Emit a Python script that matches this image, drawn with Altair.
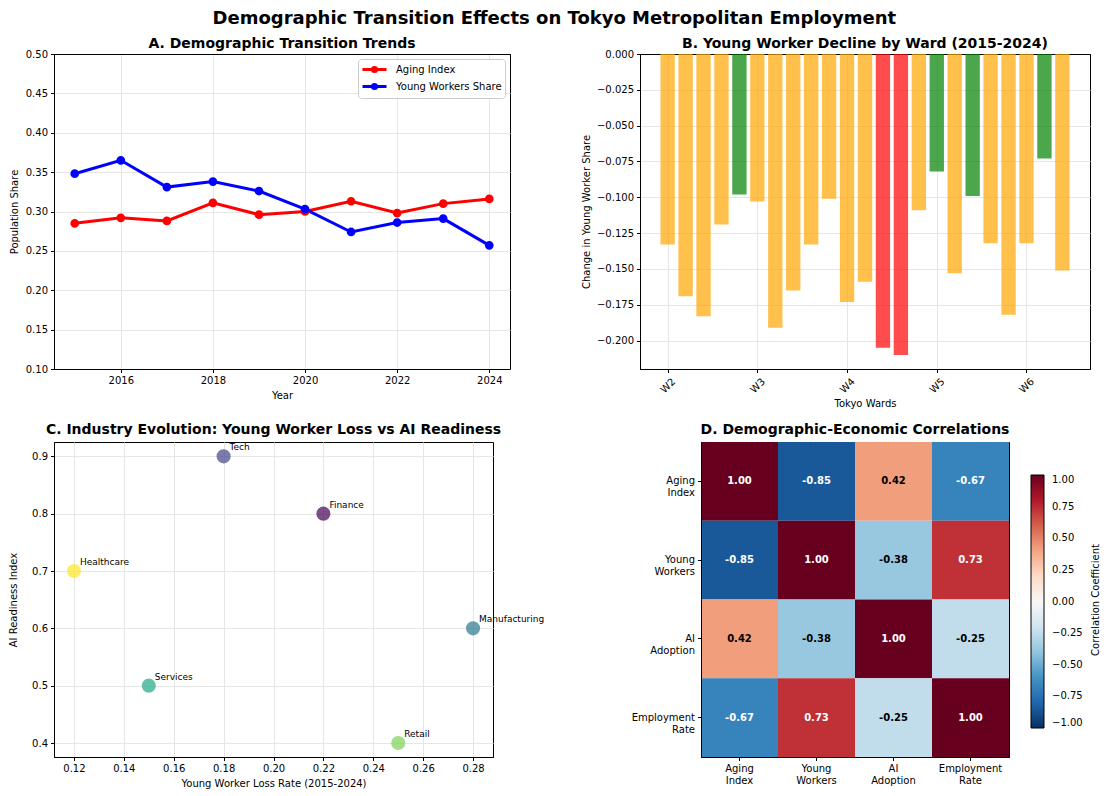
import altair as alt
import pandas as pd

FONT = "DejaVu Sans"

# ---------------- data ----------------
years = [2015, 2016, 2017, 2018, 2019, 2020, 2021, 2022, 2023, 2024]
aging_index = [0.285, 0.292, 0.288, 0.311, 0.296, 0.300, 0.313, 0.298, 0.310, 0.316]
young_share = [0.348, 0.365, 0.331, 0.338, 0.326, 0.303, 0.274, 0.286, 0.291, 0.257]
series_names = ["Aging Index", "Young Workers Share"]
series_colors = ["#ff0000", "#0000ff"]

ward_index = list(range(23))
ward_change = [-0.133, -0.169, -0.183, -0.119, -0.098, -0.103, -0.191, -0.165,
               -0.133, -0.101, -0.173, -0.159, -0.205, -0.210, -0.109, -0.082,
               -0.153, -0.099, -0.132, -0.182, -0.132, -0.073, -0.151]
ward_tick_positions = [0, 5, 10, 15, 20]
ward_tick_labels = ["W2", "W3", "W4", "W5", "W6"]
decline_classes = ["severe", "moderate", "mild"]
decline_colors = ["red", "orange", "green"]

industries = ["Finance", "Tech", "Manufacturing", "Services", "Retail", "Healthcare"]
young_loss = [0.22, 0.18, 0.28, 0.15, 0.25, 0.12]
ai_readiness = [0.80, 0.90, 0.60, 0.50, 0.40, 0.70]
industry_colors = ["#440154", "#414487", "#2a788e", "#22a884", "#7ad151", "#fde725"]

corr_labels = ["Aging Index", "Young Workers", "AI Adoption", "Employment Rate"]
corr_matrix = [
    [1.00, -0.85, 0.42, -0.67],
    [-0.85, 1.00, -0.38, 0.73],
    [0.42, -0.38, 1.00, -0.25],
    [-0.67, 0.73, -0.25, 1.00],
]
colorbar_ticks = [-1.0, -0.75, -0.5, -0.25, 0.0, 0.25, 0.5, 0.75, 1.0]
rdbu_r_stops = [-1.0, -0.8, -0.6, -0.4, -0.2, 0.0, 0.2, 0.4, 0.6, 0.8, 1.0]
rdbu_r_colors = ["#053061", "#2166ac", "#4393c3", "#92c5de", "#d1e5f0", "#f7f7f7",
                 "#fddbc7", "#f4a582", "#d6604d", "#b2182b", "#67001f"]

GRID = "#e6e6e6"

# ---------------- panel A ----------------
dfA = pd.DataFrame({
    "Year": years * 2,
    "Value": aging_index + young_share,
    "Series": [series_names[0]] * len(years) + [series_names[1]] * len(years),
})
legend_path = "M-2,0L2,0M0.35,0A0.35,0.35,0,1,1,-0.35,0A0.35,0.35,0,1,1,0.35,0Z"
legA = alt.Legend(title=None, orient="top-right", offset=5, symbolType=legend_path,
                  symbolSize=144, symbolStrokeWidth=3, symbolOffset=6,
                  labelFontSize=10, labelFont=FONT,
                  labelColor="black", labelOffset=14, rowPadding=0, padding=3,
                  strokeColor="#cccccc", fillColor="white", cornerRadius=3)
scA = alt.Scale(domain=series_names, range=series_colors)
xA = alt.X("Year:Q", scale=alt.Scale(domain=[2014.55, 2024.45], nice=False, zero=False),
           axis=alt.Axis(values=[2016, 2018, 2020, 2022, 2024], format="d", title="Year"))
yA = alt.Y("Value:Q", scale=alt.Scale(domain=[0.1, 0.5], nice=False, zero=False),
           axis=alt.Axis(values=[0.1, 0.15, 0.2, 0.25, 0.3, 0.35, 0.4, 0.45, 0.5],
                         format=".2f", title="Population Share", titlePadding=6,
                         gridColor={"condition": {"test": "datum.value >= 0.5", "value": "black"},
                                    "value": GRID}))
lineA = alt.Chart(dfA).mark_line(strokeWidth=3).encode(
    x=xA, y=yA, stroke=alt.Stroke("Series:N", scale=scA, legend=legA))
ptsA = alt.Chart(dfA).mark_point(filled=True, size=45, opacity=1).encode(
    x=xA, y=yA,
    fill=alt.Fill("Series:N", scale=scA, legend=legA),
    stroke=alt.Stroke("Series:N", scale=scA, legend=legA))
A = alt.layer(lineA, ptsA).properties(
    width=456, height=315,
    title=alt.Title("A. Demographic Transition Trends", offset=-2))

# ---------------- panel B ----------------
dfB = pd.DataFrame({"idx": ward_index, "change": ward_change})
B = alt.Chart(dfB).transform_calculate(
    x0="datum.idx - 0.4", x1="datum.idx + 0.4", zero="0",
    cls="datum.change < -0.2 ? 'severe' : (datum.change > -0.1 ? 'mild' : 'moderate')"
).mark_bar(opacity=0.7).encode(
    x=alt.X("x0:Q", scale=alt.Scale(domain=[-1.54, 23.54], nice=False, zero=False),
            axis=alt.Axis(values=ward_tick_positions,
                          labelExpr="['" + "','".join(ward_tick_labels) + "'][datum.value/5]",
                          labelAngle=-45, labelAlign="center", labelBaseline="middle",
                          labelPadding=13, title="Tokyo Wards", titlePadding=4)),
    x2="x1:Q",
    y=alt.Y("change:Q", scale=alt.Scale(domain=[-0.2198, 0.0], nice=False, zero=False),
            axis=alt.Axis(values=[0, -0.025, -0.05, -0.075, -0.1, -0.125, -0.15, -0.175, -0.2],
                          format=".3f", title="Change in Young Worker Share",
                          gridColor={"condition": {"test": "datum.value >= 0", "value": "black"},
                                     "value": GRID})),
    y2="zero:Q",
    color=alt.Color("cls:N", scale=alt.Scale(domain=decline_classes, range=decline_colors),
                    legend=None),
).properties(width=450, height=315,
             title=alt.Title("B. Young Worker Decline by Ward (2015-2024)", offset=-2))

# ---------------- panel C ----------------
dfC = pd.DataFrame({"Industry": industries, "loss": young_loss, "ai": ai_readiness})
xC = alt.X("loss:Q", scale=alt.Scale(domain=[0.112, 0.288], nice=False, zero=False),
           axis=alt.Axis(values=[0.12, 0.14, 0.16, 0.18, 0.2, 0.22, 0.24, 0.26, 0.28],
                         format=".2f", title="Young Worker Loss Rate (2015-2024)"))
yC = alt.Y("ai:Q", scale=alt.Scale(domain=[0.3756, 0.925], nice=False, zero=False),
           axis=alt.Axis(values=[0.4, 0.5, 0.6, 0.7, 0.8, 0.9], format=".1f",
                         title="AI Readiness Index", titlePadding=13))
ptsC = alt.Chart(dfC).mark_circle(size=200, opacity=0.7).encode(
    x=xC, y=yC,
    color=alt.Color("Industry:N", scale=alt.Scale(domain=industries, range=industry_colors),
                    legend=None))
txtC = alt.Chart(dfC).mark_text(align="left", baseline="alphabetic", dx=6, dy=-6,
                                fontSize=9, font=FONT, color="black").encode(
    x=xC, y=yC, text="Industry:N")
C = alt.layer(ptsC, txtC).properties(
    width=439, height=315,
    title=alt.Title("C. Industry Evolution: Young Worker Loss vs AI Readiness", offset=5))

# ---------------- panel D ----------------
rows = []
for i, r in enumerate(corr_labels):
    for j, c in enumerate(corr_labels):
        rows.append({"row": r, "col": c, "v": corr_matrix[i][j]})
dfD = pd.DataFrame(rows)
xD = alt.X("col:N", sort=corr_labels, scale=alt.Scale(paddingInner=0, paddingOuter=0),
           axis=alt.Axis(labelExpr="split(datum.label, ' ')", labelAngle=0, title=None,
                         grid=False, labelLineHeight=12, labelPadding=3))
yD = alt.Y("row:N", sort=corr_labels, scale=alt.Scale(paddingInner=0, paddingOuter=0),
           axis=alt.Axis(labelExpr="split(datum.label, ' ')", title=None, grid=False,
                         labelLineHeight=12, labelPadding=3))
yD_noaxis = alt.Y("row:N", sort=corr_labels, scale=alt.Scale(paddingInner=0, paddingOuter=0),
                  axis=None)
rectD = alt.Chart(dfD).mark_rect(opacity=1).encode(
    x=xD, y=yD,
    color=alt.Color("v:Q",
                    scale=alt.Scale(type="linear", domain=rdbu_r_stops, range=rdbu_r_colors,
                                    interpolate="rgb"),
                    legend=alt.Legend(orient="none", legendX=330, legendY=33,
                                      direction="vertical", gradientLength=253,
                                      gradientThickness=13, title=None,
                                      values=colorbar_ticks, format=".2f", labelOverlap=False,
                                      labelFontSize=10, labelFont=FONT, labelColor="black",
                                      labelOffset=8, labelBaseline="middle",
                                      gradientStrokeColor="black", gradientStrokeWidth=1,
                                      padding=0)))
textD = alt.Chart(dfD).transform_calculate(
    lbl="replace(format(datum.v, '.2f'), '\u2212', '-')",
    white="abs(datum.v) > 0.5"
).mark_text(fontSize=10, fontWeight="bold", font=FONT).encode(
    x=xD, y=yD_noaxis, text="lbl:N",
    color=alt.condition("datum.white", alt.value("white"), alt.value("black")))
cbarTitle = alt.Chart(dfD).mark_point(opacity=0).encode(
    x=xD,
    y=alt.Y("v:Q", scale=alt.Scale(domain=[-1, 1]),
            axis=alt.Axis(orient="right", offset=81, labels=False, ticks=False, grid=False,
                          domain=False, title="Correlation Coefficient", titleAngle=270,
                          titlePadding=0, titleBaseline="top")))
D = alt.layer(rectD, textD, cbarTitle).resolve_scale(y="independent").properties(
    width=308, height=315,
    title=alt.Title("D. Demographic-Economic Correlations", offset=2))

row1 = alt.hconcat(A, B, spacing=130, bounds="flush").resolve_scale(
    color="independent", fill="independent", stroke="independent")
row2 = alt.hconcat(C, D, spacing=208, bounds="flush").resolve_scale(
    color="independent", fill="independent", stroke="independent")
chart = alt.vconcat(row1, row2, spacing=12).resolve_scale(
    color="independent", fill="independent", stroke="independent").properties(
    title=alt.Title("Demographic Transition Effects on Tokyo Metropolitan Employment",
                    fontSize=18, fontWeight="bold", font=FONT, anchor="middle",
                    color="black", offset=9),
    padding={"left": 0, "top": 1, "right": 2, "bottom": 0},
).configure_view(
    stroke="black", strokeWidth=1
).configure_axis(
    labelFont=FONT, labelFontSize=10, labelColor="black",
    titleFont=FONT, titleFontSize=10, titleFontWeight="normal", titleColor="black",
    tickColor="black", tickSize=3.5, domain=True, domainColor="black", domainWidth=1,
    gridColor=GRID, labelPadding=3, titlePadding=5
).configure_title(
    font=FONT, fontSize=14, fontWeight="bold", color="black", anchor="middle"
)

chart.save("out.html", embed_options={"renderer": "svg", "actions": False})
